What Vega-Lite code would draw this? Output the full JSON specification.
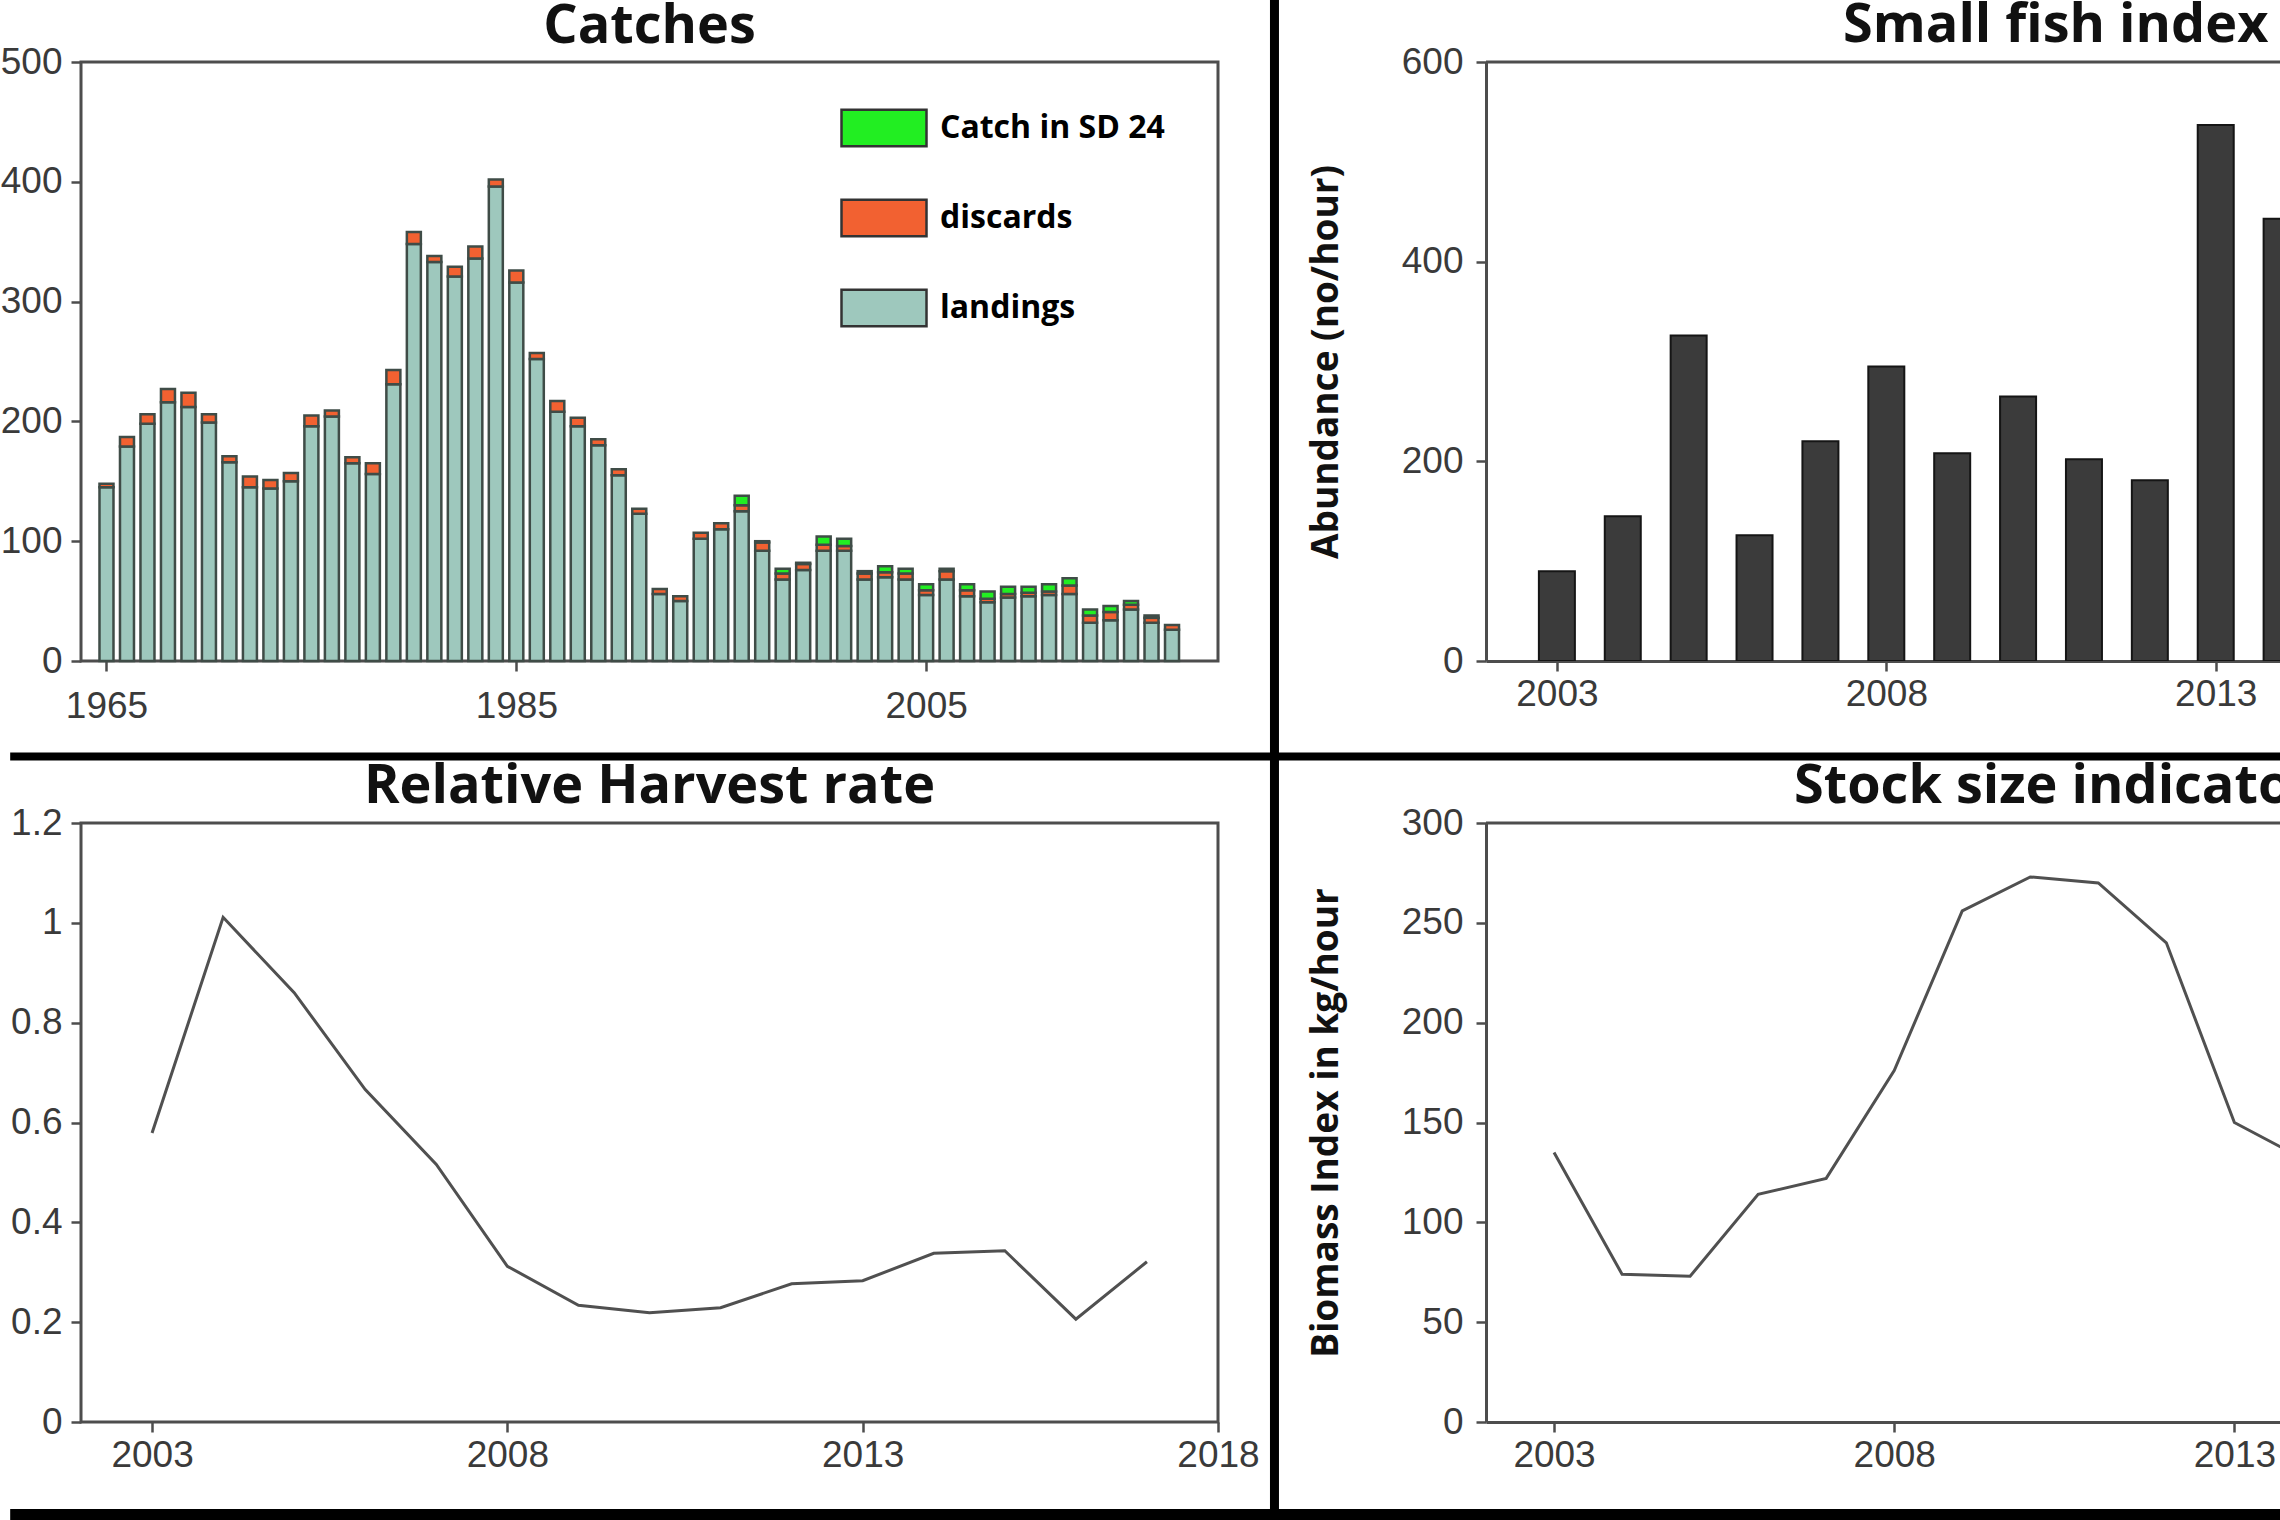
{
  "$schema": "https://vega.github.io/schema/vega-lite/v6.json",
  "background": "white",
  "padding": {"left": -2, "top": -7, "right": 0, "bottom": 0},
  "columns": 2,
  "bounds": "flush",
  "spacing": {"row": 162, "column": 268},
  "datasets": {
    "catches": [
      {"year":1965,"type":"landings","value":145},{"year":1965,"type":"discards","value":3},
      {"year":1966,"type":"landings","value":179},{"year":1966,"type":"discards","value":8},
      {"year":1967,"type":"landings","value":198},{"year":1967,"type":"discards","value":8},
      {"year":1968,"type":"landings","value":216},{"year":1968,"type":"discards","value":11},
      {"year":1969,"type":"landings","value":212},{"year":1969,"type":"discards","value":12},
      {"year":1970,"type":"landings","value":199},{"year":1970,"type":"discards","value":7},
      {"year":1971,"type":"landings","value":166},{"year":1971,"type":"discards","value":5},
      {"year":1972,"type":"landings","value":145},{"year":1972,"type":"discards","value":9},
      {"year":1973,"type":"landings","value":144},{"year":1973,"type":"discards","value":7},
      {"year":1974,"type":"landings","value":150},{"year":1974,"type":"discards","value":7},
      {"year":1975,"type":"landings","value":196},{"year":1975,"type":"discards","value":9},
      {"year":1976,"type":"landings","value":204},{"year":1976,"type":"discards","value":5},
      {"year":1977,"type":"landings","value":165},{"year":1977,"type":"discards","value":5},
      {"year":1978,"type":"landings","value":156},{"year":1978,"type":"discards","value":9},
      {"year":1979,"type":"landings","value":231},{"year":1979,"type":"discards","value":12},
      {"year":1980,"type":"landings","value":348},{"year":1980,"type":"discards","value":10},
      {"year":1981,"type":"landings","value":333},{"year":1981,"type":"discards","value":5},
      {"year":1982,"type":"landings","value":321},{"year":1982,"type":"discards","value":8},
      {"year":1983,"type":"landings","value":336},{"year":1983,"type":"discards","value":10},
      {"year":1984,"type":"landings","value":396},{"year":1984,"type":"discards","value":6},
      {"year":1985,"type":"landings","value":316},{"year":1985,"type":"discards","value":10},
      {"year":1986,"type":"landings","value":252},{"year":1986,"type":"discards","value":5},
      {"year":1987,"type":"landings","value":208},{"year":1987,"type":"discards","value":9},
      {"year":1988,"type":"landings","value":196},{"year":1988,"type":"discards","value":7},
      {"year":1989,"type":"landings","value":180},{"year":1989,"type":"discards","value":5},
      {"year":1990,"type":"landings","value":155},{"year":1990,"type":"discards","value":5},
      {"year":1991,"type":"landings","value":123},{"year":1991,"type":"discards","value":4},
      {"year":1992,"type":"landings","value":56},{"year":1992,"type":"discards","value":4},
      {"year":1993,"type":"landings","value":50},{"year":1993,"type":"discards","value":4},
      {"year":1994,"type":"landings","value":102},{"year":1994,"type":"discards","value":5},
      {"year":1995,"type":"landings","value":110},{"year":1995,"type":"discards","value":5},
      {"year":1996,"type":"landings","value":125},{"year":1996,"type":"discards","value":5},{"year":1996,"type":"Catch in SD 24","value":8},
      {"year":1997,"type":"landings","value":92},{"year":1997,"type":"discards","value":7},{"year":1997,"type":"Catch in SD 24","value":1},
      {"year":1998,"type":"landings","value":68},{"year":1998,"type":"discards","value":5},{"year":1998,"type":"Catch in SD 24","value":4},
      {"year":1999,"type":"landings","value":76},{"year":1999,"type":"discards","value":5},{"year":1999,"type":"Catch in SD 24","value":1},
      {"year":2000,"type":"landings","value":92},{"year":2000,"type":"discards","value":5},{"year":2000,"type":"Catch in SD 24","value":7},
      {"year":2001,"type":"landings","value":92},{"year":2001,"type":"discards","value":4},{"year":2001,"type":"Catch in SD 24","value":6},
      {"year":2002,"type":"landings","value":68},{"year":2002,"type":"discards","value":5},{"year":2002,"type":"Catch in SD 24","value":2},
      {"year":2003,"type":"landings","value":70},{"year":2003,"type":"discards","value":4},{"year":2003,"type":"Catch in SD 24","value":5},
      {"year":2004,"type":"landings","value":68},{"year":2004,"type":"discards","value":5},{"year":2004,"type":"Catch in SD 24","value":4},
      {"year":2005,"type":"landings","value":55},{"year":2005,"type":"discards","value":4},{"year":2005,"type":"Catch in SD 24","value":5},
      {"year":2006,"type":"landings","value":68},{"year":2006,"type":"discards","value":7},{"year":2006,"type":"Catch in SD 24","value":2},
      {"year":2007,"type":"landings","value":54},{"year":2007,"type":"discards","value":5},{"year":2007,"type":"Catch in SD 24","value":5},
      {"year":2008,"type":"landings","value":49},{"year":2008,"type":"discards","value":3},{"year":2008,"type":"Catch in SD 24","value":6},
      {"year":2009,"type":"landings","value":53},{"year":2009,"type":"discards","value":3},{"year":2009,"type":"Catch in SD 24","value":6},
      {"year":2010,"type":"landings","value":54},{"year":2010,"type":"discards","value":3},{"year":2010,"type":"Catch in SD 24","value":5},
      {"year":2011,"type":"landings","value":55},{"year":2011,"type":"discards","value":3},{"year":2011,"type":"Catch in SD 24","value":6},
      {"year":2012,"type":"landings","value":56},{"year":2012,"type":"discards","value":7},{"year":2012,"type":"Catch in SD 24","value":6},
      {"year":2013,"type":"landings","value":32},{"year":2013,"type":"discards","value":6},{"year":2013,"type":"Catch in SD 24","value":5},
      {"year":2014,"type":"landings","value":34},{"year":2014,"type":"discards","value":7},{"year":2014,"type":"Catch in SD 24","value":5},
      {"year":2015,"type":"landings","value":43},{"year":2015,"type":"discards","value":4},{"year":2015,"type":"Catch in SD 24","value":3},
      {"year":2016,"type":"landings","value":32},{"year":2016,"type":"discards","value":4},{"year":2016,"type":"Catch in SD 24","value":2},
      {"year":2017,"type":"landings","value":26},{"year":2017,"type":"discards","value":4}
    ],
    "sfi": [
      {"year":2003,"value":90},{"year":2004,"value":145},{"year":2005,"value":326},{"year":2006,"value":126},
      {"year":2007,"value":220},{"year":2008,"value":295},{"year":2009,"value":208},{"year":2010,"value":265},
      {"year":2011,"value":202},{"year":2012,"value":181},{"year":2013,"value":537},{"year":2014,"value":443}
    ],
    "hr": [
      {"year":2003,"value":0.579},{"year":2004,"value":1.011},{"year":2005,"value":0.86},{"year":2006,"value":0.666},
      {"year":2007,"value":0.516},{"year":2008,"value":0.312},{"year":2009,"value":0.234},{"year":2010,"value":0.219},
      {"year":2011,"value":0.229},{"year":2012,"value":0.277},{"year":2013,"value":0.283},{"year":2014,"value":0.338},
      {"year":2015,"value":0.343},{"year":2016,"value":0.206},{"year":2017,"value":0.321}
    ],
    "ssi": [
      {"year":2003,"value":135},{"year":2004,"value":74},{"year":2005,"value":73},{"year":2006,"value":114},
      {"year":2007,"value":122},{"year":2008,"value":176},{"year":2009,"value":256},{"year":2010,"value":273},
      {"year":2011,"value":270},{"year":2012,"value":240},{"year":2013,"value":150},{"year":2014,"value":132}
    ]
  },
  "concat": [
    {
      "width": 1137, "height": 599,
      "title": {"text": "Catches", "anchor": "middle", "dy": 71},
      "layer": [
        {
          "data": {"name": "catches"},
          "mark": {"type": "bar", "size": 14, "stroke": "#3f4c47", "strokeWidth": 2.5},
          "encoding": {
            "x": {"field": "year", "type": "quantitative", "scale": {"domain": [1964, 2019], "nice": false, "zero": false}, "axis": {"values": [1965, 1985, 2005], "format": "d", "title": null, "labelPadding": 17}},
            "y": {"field": "value", "type": "quantitative", "stack": "zero", "scale": {"domain": [0, 500], "nice": false}, "axis": {"values": [0, 100, 200, 300, 400, 500], "title": null}},
            "color": {"field": "type", "type": "nominal",
              "scale": {"domain": ["Catch in SD 24", "discards", "landings"], "range": ["#22ee22", "#f26131", "#9ec8bd"]},
              "legend": {"orient": "none", "legendX": 759, "legendY": 22, "title": null,
                "symbolType": "M-1,-0.43H1V0.43H-1Z", "symbolSize": 7225, "symbolStrokeColor": "#333333", "symbolStrokeWidth": 2.5,
                "labelFont": "Open Sans", "labelFontWeight": "bold", "labelFontSize": 32, "labelColor": "#000000", "labelLimit": 0,
                "labelOffset": 12, "rowPadding": 22, "padding": 0}}
          }
        },
        {"data": {"values": [{}]}, "mark": {"type": "rule", "color": "#000000", "strokeWidth": 9}, "encoding": {"x": {"datum": 2022}, "y": {"datum": 552}, "y2": {"datum": -717}}},
        {"data": {"values": [{}]}, "mark": {"type": "rule", "color": "#000000", "strokeWidth": 8}, "encoding": {"y": {"datum": -79.7}, "x": {"datum": 1960.3}, "x2": {"datum": 2071.2}}},
        {"data": {"values": [{}]}, "mark": {"type": "rule", "color": "#000000", "strokeWidth": 11}, "encoding": {"y": {"datum": -712.4}, "x": {"datum": 1960.3}, "x2": {"datum": 2071.2}}}
      ]
    },
    {
      "width": 796, "height": 599,
      "view": {"stroke": null},
      "title": {"text": "Small fish index", "anchor": "start", "dx": 357},
      "layer": [
        {
          "data": {"name": "sfi"},
          "mark": {"type": "bar", "size": 36, "color": "#3b3b3b", "stroke": "#151515", "strokeWidth": 2, "clip": true},
          "encoding": {
            "x": {"field": "year", "type": "quantitative", "scale": {"domain": [2002, 2013.93], "nice": false, "zero": false}, "axis": {"values": [2003, 2008, 2013], "format": "d", "title": null, "domain": true}},
            "y": {"field": "value", "type": "quantitative", "scale": {"domain": [0, 600], "nice": false}, "axis": {"values": [0, 200, 400, 600], "title": "Abundance (no/hour)", "domain": true, "titlePadding": 56, "labelPadding": 13}}
          }
        },
        {"data": {"values": [{}]}, "mark": {"type": "rule", "color": "#4d4d4d", "strokeWidth": 3}, "encoding": {"y": {"datum": 600}}}
      ]
    },
    {
      "width": 1137, "height": 599,
      "title": {"text": "Relative Harvest rate", "anchor": "middle"},
      "layer": [
        {
          "data": {"name": "hr"},
          "mark": {"type": "line", "color": "#505050", "strokeWidth": 3},
          "encoding": {
            "x": {"field": "year", "type": "quantitative", "scale": {"domain": [2002, 2018], "nice": false, "zero": false}, "axis": {"values": [2003, 2008, 2013, 2018], "format": "d", "title": null}},
            "y": {"field": "value", "type": "quantitative", "scale": {"domain": [0, 1.2], "nice": false}, "axis": {"values": [0, 0.2, 0.4, 0.6, 0.8, 1, 1.2], "format": ".1~f", "title": null}}
          }
        }
      ]
    },
    {
      "width": 796, "height": 599,
      "view": {"stroke": null},
      "title": {"text": "Stock size indicator", "anchor": "start", "dx": 308},
      "layer": [
        {
          "data": {"name": "ssi"},
          "mark": {"type": "line", "color": "#505050", "strokeWidth": 3, "clip": true},
          "encoding": {
            "x": {"field": "year", "type": "quantitative", "scale": {"domain": [2002, 2013.7], "nice": false, "zero": false}, "axis": {"values": [2003, 2008, 2013], "format": "d", "title": null, "domain": true}},
            "y": {"field": "value", "type": "quantitative", "scale": {"domain": [0, 300], "nice": false}, "axis": {"values": [0, 50, 100, 150, 200, 250, 300], "title": "Biomass Index in kg/hour", "domain": true, "titlePadding": 56, "labelPadding": 13}}
          }
        },
        {"data": {"values": [{}]}, "mark": {"type": "rule", "color": "#4d4d4d", "strokeWidth": 3}, "encoding": {"y": {"datum": 300}}}
      ]
    }
  ],
  "config": {
    "view": {"stroke": "#4d4d4d", "strokeWidth": 3},
    "axis": {"labelFont": "Liberation Sans", "labelFontSize": 37, "labelColor": "#3a3a3a", "tickColor": "#4d4d4d", "tickWidth": 2.5, "tickSize": 10, "labelPadding": 9, "labelFlush": false,
             "domain": false, "domainColor": "#4d4d4d", "domainWidth": 3, "grid": false,
             "titleFont": "Open Sans", "titleFontWeight": "bold", "titleFontSize": 37, "titleColor": "#111111"},
    "axisX": {"labelPadding": 5},
    "title": {"font": "Open Sans", "fontWeight": "bold", "fontSize": 54, "color": "#111111", "offset": 12, "dy": 22, "frame": "group"}
  }
}
